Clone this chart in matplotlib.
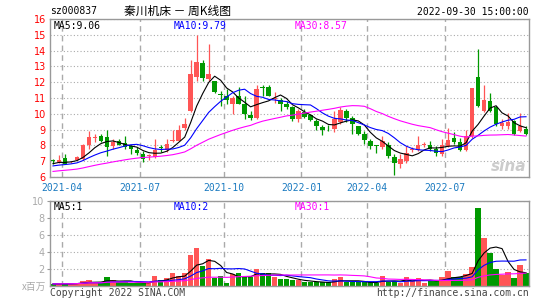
import numpy as np
import pandas as pd
import matplotlib
matplotlib.use("Agg")
import matplotlib.pyplot as plt

# weekly OHLC, one entry per trading week (2021-03 .. 2022-09-30)
opens = [7.05, 6.98, 7.2, 6.92, 7.1, 7.15, 8.0, 8.45, 8.6, 8.55,
         7.95, 8.3, 8.15, 7.95, 7.7, 7.45, 7.33, 7.25, 7.88, 7.7,
         8.25, 8.3, 9.1, 10.2, 12.3, 13.2, 12.2, 12.05, 11.27, 11.15,
         10.65, 11.15, 10.6, 9.95, 9.75, 11.67, 11.7, 10.95, 10.9, 10.6,
         10.4, 9.65, 10.1, 9.9, 9.55, 9.15, 9.12, 9.05, 9.45, 10.15,
         9.75, 9.2, 8.75, 8.3, 8.02, 7.9, 8.0, 7.25, 6.8, 7.0,
         7.7, 7.7, 8.03, 8.05, 7.8, 7.45, 7.95, 8.45, 8.2, 7.7,
         8.6, 12.35, 10.2, 10.8, 10.4, 9.2, 9.2, 9.55, 8.9, 9.05]
highs = [7.15, 7.4, 7.43, 7.0, 7.35, 8.1, 8.9, 8.7, 8.7, 9.0,
         8.4, 8.4, 8.6, 8.0, 7.9, 7.65, 7.45, 8.4, 8.0, 8.4,
         9.0, 9.3, 9.75, 13.4, 15.0, 13.4, 14.4, 12.1, 11.45, 11.6,
         11.15, 11.7, 11.1, 10.2, 11.8, 11.8, 11.8, 11.4, 11.0, 10.8,
         10.5, 10.3, 10.3, 10.0, 9.7, 9.3, 9.3, 10.15, 10.4, 10.3,
         9.85, 9.25, 8.9, 8.4, 8.05, 8.6, 8.2, 7.45, 7.45, 7.95,
         7.9, 8.6, 8.2, 8.25, 7.95, 8.4, 9.1, 8.85, 8.5, 8.95,
         11.65, 14.1, 11.85, 11.3, 10.5, 9.65, 10.05, 9.6, 10.05, 9.25]
lows = [6.8, 6.9, 6.8, 6.9, 7.05, 7.1, 7.8, 8.2, 8.2, 7.35,
        7.8, 8.0, 7.8, 7.45, 7.4, 6.95, 7.05, 7.2, 7.6, 7.6,
        8.2, 8.25, 9.0, 10.1, 12.1, 12.1, 12.1, 11.3, 10.5, 10.6,
        10.0, 10.6, 9.7, 9.6, 9.7, 11.15, 11.1, 10.7, 10.15, 10.3,
        9.55, 9.45, 9.75, 9.55, 8.95, 8.65, 8.9, 8.85, 9.35, 9.45,
        8.7, 8.65, 8.1, 7.8, 7.55, 7.8, 7.2, 6.1, 6.55, 6.9,
        7.6, 7.65, 7.9, 7.65, 7.35, 7.35, 7.9, 8.1, 7.65, 7.65,
        8.5, 10.4, 10.1, 10.1, 9.25, 9.05, 9.05, 8.65, 8.85, 8.65]
closes = [7.02, 7.1, 6.85, 6.97, 7.25, 8.0, 8.55, 8.52, 8.25, 7.9,
          8.2, 8.05, 7.9, 7.8, 7.5, 7.15, 7.36, 7.7, 7.85, 8.1,
          8.32, 9.0, 9.35, 12.5, 13.3, 12.25, 12.5, 11.35, 11.22, 10.85,
          11.0, 10.6, 10.0, 9.75, 11.55, 11.63, 11.15, 11.02, 10.6, 10.45,
          9.65, 10.15, 9.8, 9.6, 9.2, 8.95, 9.08, 9.65, 10.25, 9.75,
          9.35, 8.75, 8.35, 7.95, 7.98, 8.25, 7.3, 6.9, 7.15, 7.55,
          7.8, 8.0, 8.07, 7.8, 7.5, 8.0, 8.35, 8.2, 7.7, 8.6,
          11.65, 10.5, 10.85, 10.2, 9.35, 9.4, 9.5, 8.75, 9.2, 8.75]
# closes of the weeks before the window (only feed the moving averages)
prev_closes = [5.9, 5.85, 5.95, 6.0, 5.9, 5.95, 6.05, 6.0, 5.95, 6.0,
               6.05, 5.95, 6.0, 6.05, 5.95, 6.7, 6.8, 6.9, 6.85, 6.75,
               6.6, 6.5, 6.55, 6.6, 6.55, 6.7, 6.85, 6.8, 6.85]
# volume, millions of shares
volumes = [0.18, 0.22, 0.2, 0.22, 0.3, 0.5, 0.62, 0.3, 0.3, 1.0,
           0.6, 0.4, 0.4, 0.3, 0.3, 0.3, 0.35, 1.13, 0.6, 0.89,
           1.48, 1.09, 1.48, 3.57, 4.44, 2.27, 3.1, 0.93, 1.09, 0.3,
           1.4, 1.48, 1.0, 1.0, 1.93, 1.45, 1.45, 1.0, 0.75, 0.75,
           0.6, 0.6, 0.36, 0.36, 0.36, 0.36, 0.36, 0.73, 0.97, 0.36,
           0.36, 0.36, 0.36, 0.36, 0.3, 1.09, 0.45, 0.5, 0.26, 0.97,
           0.58, 0.85, 0.34, 0.5, 0.5, 0.97, 1.68, 0.97, 0.97, 1.33,
           2.15, 9.18, 5.62, 3.85, 1.96, 1.2, 1.6, 0.9, 2.4, 1.45]

tick_pos = [1.5, 14.5, 28.5, 41.5, 52.5, 65.5]
tick_labels = ['2021-04', '2021-07', '2021-10', '2022-01', '2022-04', '2022-07']

RED = '#ff5555'
GREEN = '#009900'
MONO = 'DejaVu Sans Mono'
CJK = ['Noto Sans CJK SC', 'DejaVu Sans']

n = len(closes)
x = np.arange(n)
o = np.array(opens)
c = np.array(closes)
colors = [RED if c[i] >= o[i] else GREEN for i in range(n)]

allc = pd.Series(prev_closes + closes)
ma = {k: allc.rolling(k, min_periods=1).mean().values[len(prev_closes):] for k in (5, 10, 30)}
vs = pd.Series(volumes)
vma = {k: vs.rolling(k, min_periods=1).mean().values for k in (5, 10, 30)}

fig = plt.figure(figsize=(5.45, 3.0), dpi=100)
ax = fig.add_axes([50/545, 1-177/300, 479/545, 158/300])
axv = fig.add_axes([50/545, 1-285.5/300, 479/545, 84.5/300])

for a in (ax, axv):
    a.set_xlim(-0.5, n - 0.5)
    for s in a.spines.values():
        s.set_color('#999999')
        s.set_linewidth(1)
    a.set_xticks(tick_pos)
    a.grid(axis='x', color='#aaaaaa', linestyle=(0, (4, 3)), lw=1)
    a.grid(axis='y', color='#aaaaaa', linestyle=(0, (1, 2)), lw=0.8)
    a.set_axisbelow(True)

# candles
ax.vlines(x, lows, highs, colors=colors, lw=0.9, zorder=2)
body = np.maximum(np.abs(c - o), 0.05)
ax.bar(x, body, bottom=np.minimum(o, c), width=0.75, color=colors, zorder=3)
ax.plot(x, ma[5], color='black', lw=0.8, zorder=4)
ax.plot(x, ma[10], color='#0000ff', lw=0.8, zorder=4)
ax.plot(x, ma[30], color='#ff00ff', lw=0.8, zorder=4)
ax.set_ylim(6, 16)
ax.set_yticks(range(6, 17))
ax.tick_params(axis='y', colors='#999999', labelcolor='red', labelsize=7, length=0, pad=3)
ax.tick_params(axis='x', length=0, pad=4.5, labelsize=7, labelcolor='#1a7ac0')
ax.set_xticklabels(tick_labels, fontfamily=MONO)

ax.text(0.008, 0.985, 'MA5:9.06', transform=ax.transAxes, ha='left', va='top',
        fontfamily=MONO, fontsize=7, color='black')
ax.text(124/479, 0.985, 'MA10:9.79', transform=ax.transAxes, ha='left', va='top',
        fontfamily=MONO, fontsize=7, color='#0000ff')
ax.text(245/479, 0.985, 'MA30:8.57', transform=ax.transAxes, ha='left', va='top',
        fontfamily=MONO, fontsize=7, color='#ff00ff')
ax.text(0.995, 0.02, 'sina', transform=ax.transAxes, ha='right', va='bottom',
        fontsize=11, fontweight='bold', fontstyle='italic', color='#cccccc', zorder=1)

# volume
axv.bar(x, volumes, width=0.9, color=colors, zorder=2)
axv.plot(x, vma[5], color='black', lw=0.8, zorder=3)
axv.plot(x, vma[10], color='#0000ff', lw=0.8, zorder=3)
axv.plot(x, vma[30], color='#ff00ff', lw=0.8, zorder=3)
axv.set_ylim(0, 10)
axv.set_yticks([2, 4, 6, 8, 10])
axv.tick_params(axis='y', colors='#999999', labelcolor='#aaaaaa', labelsize=7, length=2, pad=2)
axv.tick_params(axis='x', length=0, labelbottom=False)
axv.text(0.008, 0.985, 'MA5:1', transform=axv.transAxes, ha='left', va='top',
         fontfamily=MONO, fontsize=7, color='black')
axv.text(124/479, 0.985, 'MA10:2', transform=axv.transAxes, ha='left', va='top',
         fontfamily=MONO, fontsize=7, color='#0000ff')
axv.text(245/479, 0.985, 'MA30:1', transform=axv.transAxes, ha='left', va='top',
         fontfamily=MONO, fontsize=7, color='#ff00ff')

# header / footer texts
fig.text(50/545, 1-11/300, 'sz000837', ha='left', va='center', fontfamily=MONO, fontsize=7)
fig.text(178/545, 1-11/300, '秦川机床 － 周K线图', ha='center', va='center', family=CJK, fontsize=8.5)
fig.text(529/545, 1-12/300, '2022-09-30 15:00:00', ha='right', va='center', fontfamily=MONO, fontsize=7)
fig.text(46/545, 1-287/300, 'x百万', ha='right', va='center', family=CJK, fontsize=7, color='#aaaaaa')
fig.text(50/545, 1-293/300, 'Copyright 2022 SINA.COM', ha='left', va='center', fontfamily=MONO,
         fontsize=7, color='#444444')
fig.text(529/545, 1-293/300, 'http://finance.sina.com.cn', ha='right', va='center', fontfamily=MONO,
         fontsize=7, color='#444444')

fig.savefig('out.png', dpi=100)
